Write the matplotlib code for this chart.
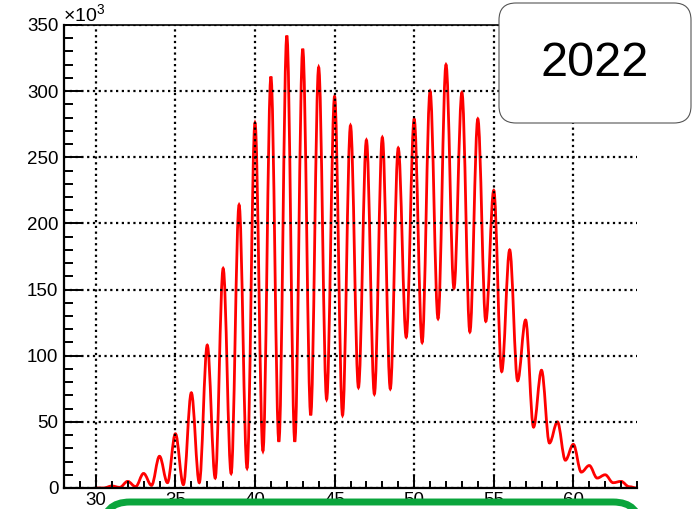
import numpy as np
import matplotlib
matplotlib.use("Agg")
import matplotlib.pyplot as plt
from matplotlib.patches import FancyBboxPatch, PathPatch
from matplotlib.path import Path
from matplotlib.ticker import MultipleLocator

plt.rcParams['font.family'] = ['Liberation Sans', 'DejaVu Sans']
plt.rcParams['mathtext.fontset'] = 'custom'
plt.rcParams['mathtext.rm'] = 'Liberation Sans'

# peak heights (x10^3) at each integer position
peak_x = np.arange(31, 64)
peak_y = [1.5, 5, 11, 24, 41, 72, 108, 166, 214, 276,
          311, 342, 332, 318, 296, 274, 263, 265, 257, 279,
          300, 320, 299, 279, 225, 180, 127, 89, 50, 33,
          17, 10, 5]

# minima between neighbouring peaks
valley_x = np.arange(30.5, 64, 1.0)
valley_y = [0, 0.5, 1, 2, 4, 2.5, 4, 7.5, 11, 15,
            28, 35, 35, 55, 67, 55, 76, 71, 75, 114,
            110, 128, 151, 118, 126, 88, 81, 46, 34, 21,
            12, 7.5, 4, 1]

ends_x = [30, 64]
ends_y = [0, 0]

xs = np.concatenate([peak_x, valley_x, ends_x]).astype(float)
ys = np.concatenate([peak_y, valley_y, ends_y]).astype(float)
order = np.argsort(xs)
xs, ys = xs[order], ys[order]

# smooth curve: cubic segments with flat tangents at every extremum
verts = [(xs[0], ys[0])]
codes = [Path.MOVETO]
for i in range(1, len(xs)):
    dx = xs[i] - xs[i - 1]
    verts += [(xs[i - 1] + 0.36 * dx, ys[i - 1]),
              (xs[i] - 0.36 * dx, ys[i]),
              (xs[i], ys[i])]
    codes += [Path.CURVE4] * 3

W, H = 692, 509
fig = plt.figure(figsize=(W / 100, H / 100), dpi=100, facecolor='white')
ax = fig.add_axes([64 / W, 21 / H, 573 / W, 463 / H])

ax.add_patch(PathPatch(Path(verts, codes), facecolor='none',
                       edgecolor='#ff0000', lw=2.0, zorder=2))

ax.set_xlim(28, 64)
ax.set_ylim(0, 350)

ax.xaxis.set_major_locator(MultipleLocator(5))
ax.xaxis.set_minor_locator(MultipleLocator(1))
ax.yaxis.set_major_locator(MultipleLocator(50))
ax.yaxis.set_minor_locator(MultipleLocator(10))

ax.grid(True, which='major', color='black', linestyle=(0, (1, 1.6)), lw=1.6)
ax.set_axisbelow(False)

ax.tick_params(which='both', direction='in', color='black', width=1.4,
               left=True, bottom=True, right=False, top=False)
ax.tick_params(axis='y', which='major', length=13, labelsize=13.5, pad=4)
ax.tick_params(axis='y', which='minor', length=6.5)
ax.tick_params(axis='x', which='major', length=9.5, labelsize=13.5, pad=3)
ax.tick_params(axis='x', which='minor', length=5)

ax.spines['left'].set_linewidth(1.6)
ax.spines['bottom'].set_linewidth(1.6)
ax.spines['top'].set_linewidth(1.2)
ax.spines['right'].set_visible(False)

ax.text(-0.002, 1.0, r'$\mathregular{\times10^{3}}$', transform=ax.transAxes,
        ha='left', va='bottom', fontsize=14)

# year box in the top right corner
year_box = FancyBboxPatch((4.99, 3.86), 1.92, 1.20,
                          boxstyle='round,pad=0,rounding_size=0.17',
                          transform=fig.dpi_scale_trans, facecolor='white',
                          edgecolor='#555555', lw=0.8, zorder=10)
fig.add_artist(year_box)
fig.text(595 / W, 1 - 63 / H, '2022', ha='center', va='center', fontsize=35, zorder=11)

# green box along the bottom edge
green_box = FancyBboxPatch((1.03, -0.6), 5.37, 0.67,
                           boxstyle='round,pad=0,rounding_size=0.27',
                           transform=fig.dpi_scale_trans, facecolor='white',
                           edgecolor='#0aa53c', lw=5, zorder=10)
fig.add_artist(green_box)

fig.savefig('out.png', dpi=100, facecolor='white')
